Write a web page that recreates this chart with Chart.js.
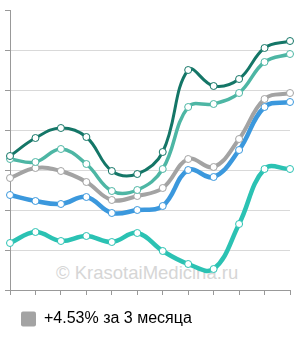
<!DOCTYPE html>
<html>
<head>
<meta charset="utf-8">
<script src="https://cdn.jsdelivr.net/npm/chart.js@4"></script>
<style>
  html, body { margin: 0; padding: 0; background: #fff; }
  #wrap { position: relative; width: 300px; height: 340px; }
  #mark {
    position: absolute; left: 56px; top: 264px;
    font: 18.5px/1 "Liberation Sans", Arial, sans-serif;
    color: #d6d6d6; white-space: nowrap;
  }
  #chart { position: absolute; left: 0; top: 0; }
</style>
</head>
<body>
<div id="wrap">
  <div id="mark">© KrasotaiMedicina.ru</div>
  <canvas id="chart" width="300" height="340"></canvas>
</div>
<script>
// values (scale 0..70)
const labels = ['1','2','3','4','5','6','7','8','9','10','11','12'];
const darkTeal = [33.5, 38, 40.5, 38.25, 29.75, 29, 34.5, 55, 51, 52.75, 60.5, 62.25];
const teal = [32.75, 32, 35.25, 31.5, 24.75, 25, 30.25, 45.75, 46.5, 49.25, 57, 59];
const gray = [28, 30.5, 29.75, 27, 22.5, 23.5, 25.5, 32.75, 30.75, 37.75, 47.75, 49.25];
const blue = [23.75, 22.25, 21.5, 23.25, 19.25, 20, 21, 30, 28.25, 35, 45.75, 47];
const turquoise = [11.75, 14.5, 12.25, 13.5, 12, 14.25, 9.75, 6.5, 5.25, 16.5, 30.25, 30.25];
const legendText = '+4.53% за 3 месяца';

function line(data, color, width){
  return {
    data: data,
    borderColor: color,
    backgroundColor: color,
    borderWidth: width,
    tension: 0.4,
    fill: false,
    clip: false,
    pointRadius: 3.5,
    pointBackgroundColor: '#fff',
    pointBorderColor: color,
    pointBorderWidth: 1
  };
}

const ctx = document.getElementById('chart').getContext('2d');
new Chart(ctx, {
  type: 'line',
  data: {
    labels: labels,
    datasets: [
      line(darkTeal, '#147667', 3),
      line(teal, '#4db6a4', 3.5),
      line(gray, '#a3a3a3', 4),
      line(blue, '#3b98dd', 4.5),
      line(turquoise, '#2bc2b3', 4.5)
    ]
  },
  options: {
    responsive: false,
    animation: false,
    layout: { padding: { left: 5, top: 10, right: 10, bottom: 3 } },
    plugins: {
      tooltip: { enabled: false },
      legend: {
        position: 'bottom',
        align: 'start',
        labels: {
          padding: 16,
          boxWidth: 15,
          boxHeight: 15,
          useBorderRadius: true,
          borderRadius: 2,
          color: '#333',
          font: { family: '"Liberation Sans", Arial, sans-serif', size: 16 },
          generateLabels: function(chart){
            return [{
              text: legendText,
              fillStyle: '#a3a3a3',
              strokeStyle: '#a3a3a3',
              lineWidth: 0,
              hidden: false,
              datasetIndex: 2,
              borderRadius: 2
            }];
          }
        }
      }
    },
    scales: {
      x: {
        offset: false,
        ticks: { display: false },
        grid: { drawOnChartArea: false, tickLength: 5, tickColor: '#999' },
        border: { color: '#999' }
      },
      y: {
        min: 0,
        max: 70,
        ticks: { display: false, stepSize: 10 },
        grid: {
          tickLength: 5,
          tickColor: '#999',
          color: function(c){
            return (c.tick && (c.tick.value === 70 || c.tick.value === 0)) ? 'rgba(0,0,0,0)' : '#d9d9d9';
          }
        },
        border: { color: '#999' }
      }
    }
  }
});
</script>
</body>
</html>
